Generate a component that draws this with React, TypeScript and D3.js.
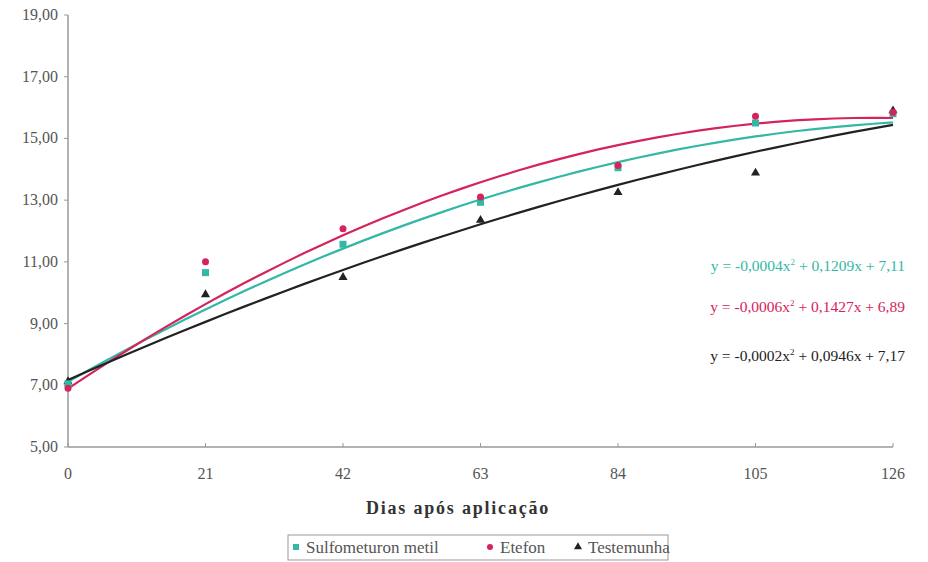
import React from "react";
import * as d3 from "d3";

const days = [0, 21, 42, 63, 84, 105, 126];
const sulfometuron = [7.05, 10.65, 11.57, 12.93, 14.05, 15.5, 15.8];
const etefon = [6.9, 11.0, 12.07, 13.1, 14.12, 15.72, 15.85];
const testemunha = [7.12, 9.94, 10.5, 12.35, 13.25, 13.88, 15.9];
// trend-line coefficients [a, b, c] for y = a x^2 + b x + c
const trendSulfometuron = [-0.00043, 0.1209, 7.11];
const trendEtefon = [-0.00058, 0.1427, 6.89];
const trendTestemunha = [-0.00023, 0.0946, 7.17];
const yTicks = [5, 7, 9, 11, 13, 15, 17, 19];
const equations = [
  { pre: "y = -0,0004x", post: " + 0,1209x + 7,11" },
  { pre: "y = -0,0006x", post: " + 0,1427x + 6,89" },
  { pre: "y = -0,0002x", post: " + 0,0946x + 7,17" },
];
const seriesNames = ["Sulfometuron metil", "Etefon", "Testemunha"];
const colors = ["#33b8a5", "#d4245c", "#222222"];

export default function App() {
  const W = 928, H = 562;
  const x = d3.scaleLinear().domain([0, 126]).range([68, 893]);
  const y = d3.scaleLinear().domain([5, 19]).range([447, 15]);
  const trends = [trendSulfometuron, trendEtefon, trendTestemunha];
  const line = d3.line<[number, number]>().x(d => x(d[0])).y(d => y(d[1])).curve(d3.curveMonotoneX);
  const serif = "'Liberation Serif', 'DejaVu Serif', serif";
  const tri = d3.symbol().type(d3.symbolTriangle).size(36)();
  const eqY = [271, 312, 361];

  return (
    <svg width={W} height={H} style={{ position: "absolute", left: 0, top: 0, background: "#fff" }}>
      {/* axes */}
      <line x1={68} x2={68} y1={15} y2={447} stroke="#9a9a9a" strokeWidth={1.5} />
      <line x1={68} x2={893} y1={447} y2={447} stroke="#9a9a9a" strokeWidth={1.5} />
      {yTicks.map(t => (
        <g key={t}>
          <line x1={64} x2={68} y1={y(t)} y2={y(t)} stroke="#9a9a9a" />
          <text x={58} y={y(t) + 5} textAnchor="end" fontFamily={serif} fontSize={16} fill="#555">
            {t.toFixed(2).replace(".", ",")}
          </text>
        </g>
      ))}
      {days.map(d => (
        <g key={d}>
          <line x1={x(d)} x2={x(d)} y1={443} y2={447} stroke="#9a9a9a" />
          <text x={x(d)} y={479} textAnchor="middle" fontFamily={serif} fontSize={16} fill="#555">
            {d}
          </text>
        </g>
      ))}
      <text x={458} y={514} textAnchor="middle" fontFamily={serif} fontSize={18} fontWeight="bold" fill="#333" letterSpacing={1.8}>
        Dias após aplicação
      </text>

      {/* trend curves */}
      {trends.map((c, si) => {
        const pts: [number, number][] = days.flatMap((d, i) =>
          i === 0 ? [d] : d3.range(days[i - 1] + 3, d + 0.01, 3)
        ).map(v => [v, c[0] * v * v + c[1] * v + c[2]]);
        return <path key={si} d={line(pts) || ""} fill="none" stroke={colors[si]} strokeWidth={2.2} />;
      })}

      {/* points */}
      {testemunha.map((v, i) => (
        <path key={"t" + i} d={tri || ""} transform={`translate(${x(days[i])},${y(v)})`} fill={colors[2]} />
      ))}
      {sulfometuron.map((v, i) => (
        <rect key={"s" + i} x={x(days[i]) - 3.5} y={y(v) - 3.5} width={7} height={7} fill={colors[0]} />
      ))}
      {etefon.map((v, i) => (
        <circle key={"e" + i} cx={x(days[i])} cy={y(v)} r={3.5} fill={colors[1]} />
      ))}

      {/* equations */}
      {equations.map((e, i) => (
        <text key={i} x={905} y={eqY[i]} textAnchor="end" fontFamily={serif} fontSize={15.5} fill={colors[i]}>
          {e.pre}
          <tspan dy={-6} fontSize={9}>2</tspan>
          <tspan dy={6}>{e.post}</tspan>
        </text>
      ))}

      {/* legend */}
      <rect x={288} y={535} width={380} height={25} fill="#fff" stroke="#999" />
      {seriesNames.map((n, i) => {
        const offs = [296, 490, 578];
        const cx = offs[i];
        return (
          <g key={n}>
            {i === 0 && <rect x={cx - 3} y={544} width={6} height={6} fill={colors[0]} />}
            {i === 1 && <circle cx={cx} cy={547} r={3} fill={colors[1]} />}
            {i === 2 && <path d={d3.symbol().type(d3.symbolTriangle).size(28)() || ""} transform={`translate(${cx},${547})`} fill={colors[2]} />}
            <text x={cx + 10} y={553} fontFamily={serif} fontSize={17} fill="#555">{n}</text>
          </g>
        );
      })}
    </svg>
  );
}
